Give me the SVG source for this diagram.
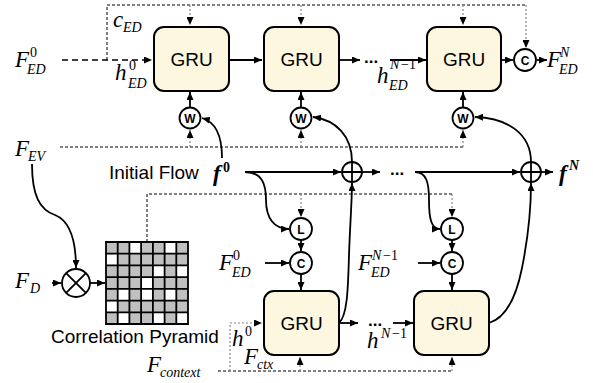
<svg xmlns="http://www.w3.org/2000/svg" width="593" height="383" viewBox="0 0 593 383">
<style>
.box{fill:#fcf7de;stroke:#000;stroke-width:2}
.cir{fill:#fff;stroke:#000;stroke-width:1.8}
.gru{font-family:"Liberation Sans",Arial,sans-serif;font-size:19px;text-anchor:middle}
.lt{font-family:"Liberation Sans",Arial,sans-serif;font-size:12px;font-weight:bold;text-anchor:middle}
.sans{font-family:"Liberation Sans",Arial,sans-serif;font-size:19px}
.m{font-family:"Liberation Serif","Times New Roman",serif;font-style:italic;font-size:23px}
.s{font-size:14px}
.bf{font-weight:bold}
.ln{fill:none;stroke:#000;stroke-width:1.8}
.ds{fill:none;stroke:#000;stroke-width:1;stroke-dasharray:3 2}
.dt{fill:none;stroke:#888;stroke-width:1.2;stroke-dasharray:2 2}
.dl{fill:none;stroke:#000;stroke-width:1.5;stroke-dasharray:6 4}
.dots{font-family:"Liberation Sans",Arial,sans-serif;font-size:17px;font-weight:bold}
</style>
<defs>
<marker id="a" markerUnits="userSpaceOnUse" markerWidth="8" markerHeight="7" refX="8" refY="3.5" orient="auto"><path d="M0,0 L8,3.5 L0,7 z" fill="#000"/></marker>
</defs>

<g id="connectors">
<path class="dl" d="M62,60 H152" marker-end="url(#a)"/>
<path class="ds" d="M107,60 V5 H526"/>
<path class="dt" d="M190,5 V25" marker-end="url(#a)"/>
<path class="dt" d="M301,5 V25" marker-end="url(#a)"/>
<path class="dt" d="M463,5 V25" marker-end="url(#a)"/>
<path class="dt" d="M526,5 V48" marker-end="url(#a)"/>
<path class="ln" d="M229,60 H262" marker-end="url(#a)"/>
<path class="ln" d="M339,60 H360" marker-end="url(#a)"/>
<path class="ln" d="M390,60 H426" marker-end="url(#a)"/>
<path class="ln" d="M501,60 H513" marker-end="url(#a)"/>
<path class="ln" d="M537,60 H547" marker-end="url(#a)"/>
<path class="ln" d="M190,107 V92" marker-end="url(#a)"/>
<path class="ln" d="M301,107 V92" marker-end="url(#a)"/>
<path class="ln" d="M463,107 V92" marker-end="url(#a)"/>
<path class="ds" d="M60,147 H463"/>
<path class="dt" d="M190,147 V130" marker-end="url(#a)"/>
<path class="dt" d="M301,147 V130" marker-end="url(#a)"/>
<path class="dt" d="M463,147 V130" marker-end="url(#a)"/>
<path class="ln" d="M222,158 C222,136 216,122 202,118" marker-end="url(#a)"/>
<path class="ln" d="M352,162 C352,136 336,120 313,117" marker-end="url(#a)"/>
<path class="ln" d="M531,162 C531,134 508,118 475,117" marker-end="url(#a)"/>
<path class="ln" d="M245,172 H341" marker-end="url(#a)"/>
<path class="ln" d="M362,172 H380" marker-end="url(#a)"/>
<path class="ln" d="M415,172 H520" marker-end="url(#a)"/>
<path class="ln" d="M541,172 H553" marker-end="url(#a)"/>
<path class="ln" d="M245,172 C262,172 266,184 266,200 C266,218 274,229 289,229" marker-end="url(#a)"/>
<path class="ln" d="M415,172 C427,172 429,184 429,200 C429,218 431,229 440,229" marker-end="url(#a)"/>
<path class="ds" d="M147,242 V194 H452"/>
<path class="dt" d="M301,194 V217" marker-end="url(#a)"/>
<path class="dt" d="M452,194 V217" marker-end="url(#a)"/>
<path class="ln" d="M301,240 V251" marker-end="url(#a)"/>
<path class="ln" d="M452,240 V251" marker-end="url(#a)"/>
<path class="ln" d="M301,274 V290" marker-end="url(#a)"/>
<path class="ln" d="M452,274 V290" marker-end="url(#a)"/>
<path class="ln" d="M265,263 H289" marker-end="url(#a)"/>
<path class="ln" d="M418,263 H440" marker-end="url(#a)"/>
<path class="ln" d="M339,323 H358" marker-end="url(#a)"/>
<path class="ln" d="M393,323 H413" marker-end="url(#a)"/>
<path class="ln" d="M339,323 C347,316 348,292 349,255 C350,225 352,200 352,183" marker-end="url(#a)"/>
<path class="ln" d="M489,323 C506,318 516,298 522,268 C528,238 531,210 531,183" marker-end="url(#a)"/>
<path class="ds" d="M218,371 H452"/>
<path class="dt" d="M230,371 V323 H262" marker-end="url(#a)"/>
<path class="dt" d="M300,371 V357" marker-end="url(#a)"/>
<path class="dt" d="M452,371 V357" marker-end="url(#a)"/>
<path class="ln" d="M32,164 C32,196 40,210 55,215 C70,221 76,240 76,268" marker-end="url(#a)"/>
<path class="ln" d="M52,283 H61" marker-end="url(#a)"/>
<path class="ln" d="M90,283 H105" marker-end="url(#a)"/>
</g>

<g id="gru1"><rect class="box" x="154" y="27" width="75" height="64" rx="10"/><text class="gru" x="191.5" y="66">GRU</text></g>
<g id="gru2"><rect class="box" x="264" y="27" width="75" height="64" rx="10"/><text class="gru" x="301.5" y="66">GRU</text></g>
<g id="gru3"><rect class="box" x="427" y="27" width="74" height="64" rx="10"/><text class="gru" x="464" y="66">GRU</text></g>
<g id="gru4"><rect class="box" x="264" y="291" width="75" height="64" rx="10"/><text class="gru" x="301.5" y="330">GRU</text></g>
<g id="gru5"><rect class="box" x="414" y="291" width="75" height="64" rx="10"/><text class="gru" x="451.5" y="330">GRU</text></g>

<g id="w1"><circle class="cir" cx="190" cy="118" r="10.5"/><text class="lt" x="190" y="122.5">W</text></g>
<g id="w2"><circle class="cir" cx="301" cy="118" r="10.5"/><text class="lt" x="301" y="122.5">W</text></g>
<g id="w3"><circle class="cir" cx="463" cy="118" r="10.5"/><text class="lt" x="463" y="122.5">W</text></g>
<g id="c_top"><circle class="cir" cx="525" cy="60" r="11"/><text class="lt" x="525" y="64.5">C</text></g>
<g id="l1"><circle class="cir" cx="301" cy="229" r="11"/><text class="lt" x="301" y="233.5">L</text></g>
<g id="c1"><circle class="cir" cx="301" cy="263" r="11"/><text class="lt" x="301" y="267.5">C</text></g>
<g id="l2"><circle class="cir" cx="452" cy="229" r="11"/><text class="lt" x="452" y="233.5">L</text></g>
<g id="c2"><circle class="cir" cx="452" cy="263" r="11"/><text class="lt" x="452" y="267.5">C</text></g>
<g id="plus1"><circle class="cir" cx="352" cy="172" r="10"/><path class="ln" d="M342,172 H362 M352,162 V182"/></g>
<g id="plus2"><circle class="cir" cx="531" cy="172" r="10"/><path class="ln" d="M521,172 H541 M531,162 V182"/></g>
<g id="times"><circle class="cir" cx="76" cy="283" r="14"/><path class="ln" d="M66.1,273.1 L85.9,292.9 M85.9,273.1 L66.1,292.9"/></g>

<g id="pyramid">
<rect x="106" y="242" width="82" height="82" fill="#c0c0c0"/>
<g fill="#fff">
<rect x="129.4" y="242" width="11.7" height="11.7"/>
<rect x="164.6" y="242" width="11.7" height="11.7"/>
<rect x="106" y="253.7" width="11.7" height="11.7"/>
<rect x="152.9" y="265.4" width="11.7" height="11.7"/>
<rect x="176.3" y="265.4" width="11.7" height="11.7"/>
<rect x="141.1" y="277.1" width="11.7" height="11.7"/>
<rect x="117.7" y="288.9" width="11.7" height="11.7"/>
<rect x="141.1" y="288.9" width="11.7" height="11.7"/>
<rect x="164.6" y="288.9" width="11.7" height="11.7"/>
<rect x="106" y="300.6" width="11.7" height="11.7"/>
<rect x="117.7" y="312.3" width="11.7" height="11.7"/>
<rect x="152.9" y="312.3" width="11.7" height="11.7"/>
<rect x="176.3" y="312.3" width="11.7" height="11.7"/>
</g>
<path fill="none" stroke="#000" stroke-width="1.8" d="M106,242 H188 V324 H106 Z M117.7,242 V324 M129.4,242 V324 M141.1,242 V324 M152.9,242 V324 M164.6,242 V324 M176.3,242 V324 M106,253.7 H188 M106,265.4 H188 M106,277.1 H188 M106,288.9 H188 M106,300.6 H188 M106,312.3 H188"/>
<text class="sans" x="51" y="343">Correlation Pyramid</text>
</g>

<g id="labels">
<text class="m"><tspan x="15" y="67">F</tspan><tspan class="s" x="30" y="57" font-style="normal">0</tspan><tspan class="s" x="27" y="74">ED</tspan></text>
<text class="m"><tspan x="113" y="27">c</tspan><tspan class="s" x="123" y="32">ED</tspan></text>
<text class="m"><tspan x="115" y="80">h</tspan><tspan class="s" x="129" y="70" font-style="normal">0</tspan><tspan class="s" x="128" y="88">ED</tspan></text>
<text class="m"><tspan x="377" y="83">h</tspan><tspan class="s" x="390" y="69">N</tspan><tspan class="s" x="401" y="69" font-style="normal">−1</tspan><tspan class="s" x="389" y="90">ED</tspan></text>
<text class="m"><tspan x="547" y="67">F</tspan><tspan class="s" x="560" y="57">N</tspan><tspan class="s" x="559" y="74">ED</tspan></text>
<text class="m"><tspan x="15" y="156">F</tspan><tspan class="s" x="28" y="161">EV</tspan></text>
<text class="sans" x="109" y="179">Initial Flow</text>
<text class="m bf"><tspan x="213" y="181">f</tspan><tspan class="s" x="223" y="172" font-style="normal">0</tspan></text>
<text class="m bf"><tspan x="559" y="181">f</tspan><tspan class="s" x="569" y="170">N</tspan></text>
<text class="m"><tspan x="219" y="270">F</tspan><tspan class="s" x="233" y="260" font-style="normal">0</tspan><tspan class="s" x="232" y="277">ED</tspan></text>
<text class="m"><tspan x="358" y="270">F</tspan><tspan class="s" x="372" y="260">N</tspan><tspan class="s" x="383" y="260" font-style="normal">−1</tspan><tspan class="s" x="371" y="277">ED</tspan></text>
<text class="m"><tspan x="15" y="288">F</tspan><tspan class="s" x="30" y="293">D</tspan></text>
<text class="m"><tspan x="232" y="346">h</tspan><tspan class="s" x="245" y="336" font-style="normal">0</tspan></text>
<text class="m"><tspan x="244" y="364">F</tspan><tspan class="s" x="257" y="369">ctx</tspan></text>
<text class="m"><tspan x="147" y="372">F</tspan><tspan class="s" x="160" y="377">context</tspan></text>
<text class="m"><tspan x="367" y="348">h</tspan><tspan class="s" x="381" y="338">N</tspan><tspan class="s" x="392" y="338" font-style="normal">−1</tspan></text>
<text class="dots" x="364" y="63" font-size="15">...</text>
<text class="dots" x="390" y="175">...</text>
<text class="dots" x="368" y="326">...</text>
</g>
</svg>
